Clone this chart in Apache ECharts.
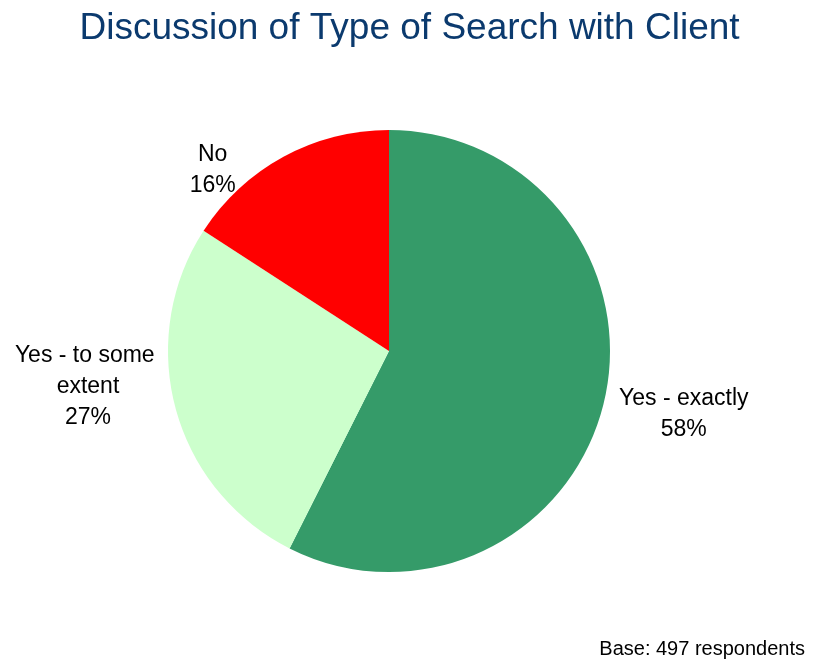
<!DOCTYPE html>
<html>
<head>
<meta charset="utf-8">
<script src="https://cdn.jsdelivr.net/npm/echarts@6/dist/echarts.min.js"></script>
<style>
  html, body { margin: 0; padding: 0; background: #fff; }
  #chart { width: 819px; height: 666px; }
</style>
</head>
<body>
<div id="chart"></div>
<script>
// Answers to "did you discuss the type of search with the client?"
const categories = ['Yes - exactly', 'Yes - to some extent', 'No'];
const shares = [58, 27, 16];
const colors = ['#359B69', '#CCFFCC', '#FF0000'];
const baseNote = 'Base: 497 respondents';

// Offsets (px) of each label's centre from the slice-side anchor of its box
const labelNudge = [[67, 10], [-75, -24], [-62, 20]];

const chart = echarts.init(document.getElementById('chart'));

chart.setOption({
  backgroundColor: '#ffffff',
  animation: false,
  title: [
    {
      text: 'Discussion of Type of Search with Client',
      left: 'center',
      top: 5,
      textStyle: {
        fontFamily: 'Liberation Sans, Arial, sans-serif',
        fontSize: 37,
        fontWeight: 'normal',
        color: '#0B3A6E'
      }
    },
    {
      text: baseNote,
      right: 9,
      bottom: 2,
      textStyle: {
        fontFamily: 'Liberation Sans, Arial, sans-serif',
        fontSize: 20,
        fontWeight: 'normal',
        color: '#000000'
      }
    }
  ],
  series: [
    {
      type: 'pie',
      center: [389, 351],
      radius: 221,
      startAngle: 90,
      clockwise: true,
      data: categories.map((name, i) => ({
        name: name,
        value: shares[i],
        itemStyle: { color: colors[i] }
      })),
      label: {
        show: true,
        position: 'outside',
        formatter: '{b}\n{c}%',
        fontFamily: 'Liberation Sans, Arial, sans-serif',
        fontSize: 23,
        lineHeight: 31,
        color: '#000000',
        width: 170,
        overflow: 'break',
        align: 'center'
      },
      labelLine: { show: false, length: 8, length2: 0 },
      labelLayout: function (params) {
        const r = params.labelRect;
        const n = labelNudge[params.dataIndex];
        const leftSide = params.align === 'right';
        const anchorX = leftSide ? r.x + r.width : r.x;
        return {
          x: anchorX + n[0],
          y: r.y + r.height / 2 + n[1],
          align: 'center',
          verticalAlign: 'middle'
        };
      },
      emphasis: { disabled: true }
    }
  ]
});
</script>
</body>
</html>
